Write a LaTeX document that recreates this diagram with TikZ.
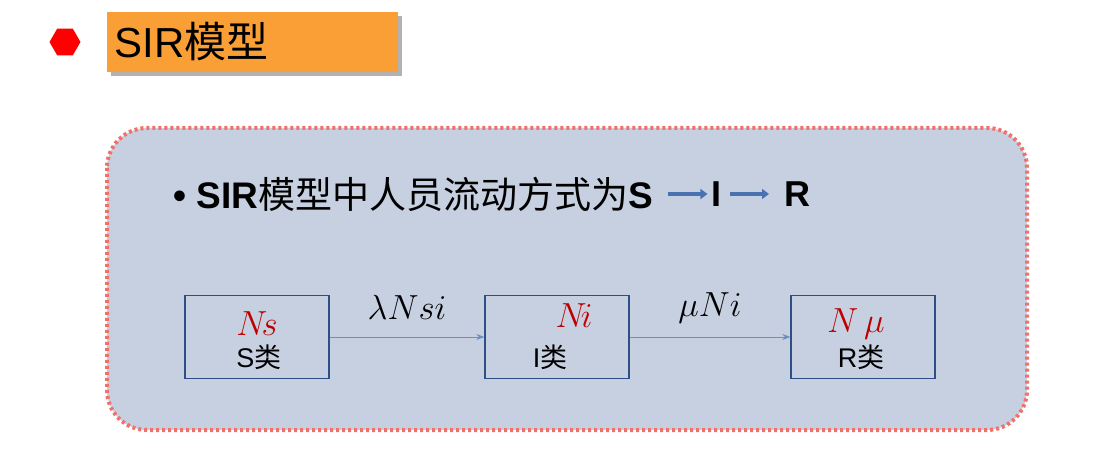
\documentclass[tikz,border=0pt]{standalone}
\usepackage{fontspec}
\setmainfont{Liberation Sans}
\newfontfamily\cjk{Noto Sans CJK SC}
\usetikzlibrary{shapes.geometric,arrows.meta,shadows}
\definecolor{panel}{HTML}{C6D0E0}
\definecolor{dotred}{HTML}{F0706A}
\definecolor{boxblue}{HTML}{2E4F86}
\definecolor{arrblue}{HTML}{4A72B0}
\definecolor{orng}{HTML}{FA9F35}
\newcommand{\sirmath}[1]{\scalebox{1.4}{$#1$}}
\tikzset{
  stagebox/.style={draw=boxblue,line width=1.3pt,minimum width=144pt,minimum height=83pt,inner sep=0pt},
  flow/.style={draw=arrblue!80,line width=0.7pt,-{Stealth[length=8pt,width=6pt]}},
  bigflow/.style={draw=arrblue,line width=3.5pt,-{Triangle[length=7pt,width=10pt]}},
  mathlbl/.style={font=\fontsize{24}{24}\selectfont\rmfamily},
  cls/.style={font=\fontsize{27}{27}\selectfont},
}
\begin{document}
\begin{tikzpicture}[x=1pt,y=-1pt]
\useasboundingbox (0,0) rectangle (1117,462);
\fill[white] (0,0) rectangle (1117,462);
\node[regular polygon,regular polygon sides=6,fill=red,minimum size=31pt,inner sep=0pt] (hex) at (65,42) {};
\fill[gray!60] (111,16) rectangle (402,76);
\node[fill=orng,minimum width=291pt,minimum height=60pt,inner sep=0pt,anchor=north west] (title) at (107,12) {};
\node[anchor=west,font=\fontsize{42}{42}\selectfont] (tt) at (111,42) {SIR{\cjk 模型}};
\draw[dotred,line width=4pt,dash pattern=on 3pt off 3pt,fill=panel,rounded corners=40pt] (107,128) rectangle (1027,430);
\node[anchor=west,font=\fontsize{37}{37}\selectfont\bfseries] (bl) at (170,194) {\textbullet\ SIR{\cjk\mdseries 模型中人员流动方式为}S};
\node[font=\fontsize{36}{36}\selectfont\bfseries] (bi) at (716,194) {I};
\node[font=\fontsize{36}{36}\selectfont\bfseries] (br) at (797,194) {R};
\coordinate (a1) at (668,194);
\coordinate (a2) at (730,194);
\coordinate (a3) at (769,194);
\draw[bigflow] (a1) -- (bi.west);
\draw[bigflow] (a2) -- (a3);
\node[stagebox] (S) at (257,337) {};
\node[stagebox] (I) at (557,337) {};
\node[stagebox] (R) at (863,337) {};
\node[mathlbl,text=red!75!black] at (257,324) {\sirmath{N\!s}};
\node[cls] at (259,357) {S{\cjk 类}};
\node[mathlbl,text=red!75!black] at (574,316) {\sirmath{N\!i}};
\node[cls] at (550,357) {I{\cjk 类}};
\node[mathlbl,text=red!75!black] at (856,324) {\sirmath{N\,\mu}};
\node[cls] at (861,357) {R{\cjk 类}};
\draw[flow] (S.east) -- (I.west) node[midway,above=14pt,mathlbl] {\sirmath{\lambda Nsi}};
\draw[flow] (I.east) -- (R.west) node[midway,above=10pt,mathlbl] {\sirmath{\mu Ni}};
\node[anchor=east,text=white,font=\fontsize{13}{13}\selectfont] (wm) at (1112,443) {https://blog.csdn.net/csdn\_ggboy};
\end{tikzpicture}
\end{document}
